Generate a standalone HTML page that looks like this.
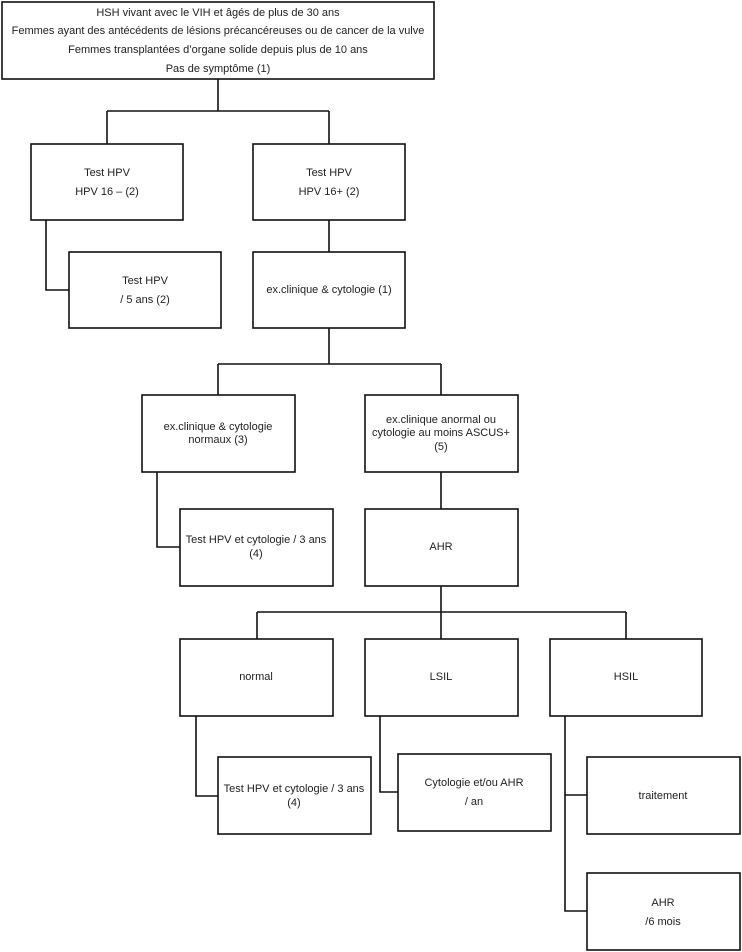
<!DOCTYPE html>
<html><head><meta charset="utf-8"><style>
html,body{margin:0;padding:0;background:#fff;}
svg{display:block;}
text{font-family:"Liberation Sans",sans-serif;font-size:11px;fill:#222;text-anchor:middle;dominant-baseline:middle;}
rect{fill:#fff;stroke:#111;stroke-width:1.6;}
path{fill:none;stroke:#111;stroke-width:1.6;}
</style></head><body>
<svg width="742" height="952" viewBox="0 0 742 952">
<!-- connectors -->
<path d="M218 79V111M107 111H329M107 111V144M329 111V144"/>
<path d="M46 220V290H69"/>
<path d="M329 220V252M329 328V364M218 364H441M218 364V395M441 364V395"/>
<path d="M157 472V547H180"/>
<path d="M441 472V509M441 586V639M257 612H626M257 612V639M626 612V639"/>
<path d="M196 716V796H218"/>
<path d="M380 716V792H398"/>
<path d="M565 716V911H587M565 795H587"/>
<!-- boxes -->
<rect x="2" y="2" width="432" height="77"/>
<text x="218" y="13">HSH vivant avec le VIH et âgés de plus de 30 ans</text>
<text x="218" y="31">Femmes ayant des antécédents de lésions précancéreuses ou de cancer de la vulve</text>
<text x="218" y="50">Femmes transplantées d’organe solide depuis plus de 10 ans</text>
<text x="218" y="69">Pas de symptôme (1)</text>

<rect x="31" y="144" width="152" height="76"/>
<text x="107" y="173">Test HPV</text><text x="107" y="192">HPV 16 – (2)</text>
<rect x="253" y="144" width="152" height="76"/>
<text x="329" y="173">Test HPV</text><text x="329" y="192">HPV 16+ (2)</text>

<rect x="69" y="252" width="152" height="76"/>
<text x="145" y="281">Test HPV</text><text x="145" y="300">/ 5 ans (2)</text>
<rect x="253" y="252" width="152" height="76"/>
<text x="329" y="290">ex.clinique &amp; cytologie (1)</text>

<rect x="142" y="395" width="153" height="77"/>
<text x="218" y="427">ex.clinique &amp; cytologie</text><text x="218" y="440">normaux  (3)</text>
<rect x="365" y="395" width="153" height="77"/>
<text x="441" y="420">ex.clinique anormal ou</text><text x="441" y="433">cytologie au moins ASCUS+</text><text x="441" y="447">(5)</text>

<rect x="180" y="509" width="153" height="77"/>
<text x="256" y="540">Test HPV et cytologie / 3 ans</text><text x="256" y="554">(4)</text>
<rect x="365" y="509" width="153" height="77"/>
<text x="441" y="547">AHR</text>

<rect x="180" y="639" width="153" height="77"/>
<text x="256" y="677">normal</text>
<rect x="365" y="639" width="153" height="77"/>
<text x="441" y="677">LSIL</text>
<rect x="550" y="639" width="152" height="77"/>
<text x="626" y="677">HSIL</text>

<rect x="218" y="757" width="153" height="77"/>
<text x="294" y="789">Test HPV et cytologie / 3 ans</text><text x="294" y="803">(4)</text>
<rect x="398" y="754" width="153" height="77"/>
<text x="474" y="783">Cytologie et/ou AHR</text><text x="474" y="802">/  an</text>
<rect x="587" y="757" width="153" height="77"/>
<text x="663" y="796">traitement</text>
<rect x="587" y="873" width="153" height="77"/>
<text x="663" y="903">AHR</text><text x="663" y="922">/6 mois</text>
</svg>
</body></html>
